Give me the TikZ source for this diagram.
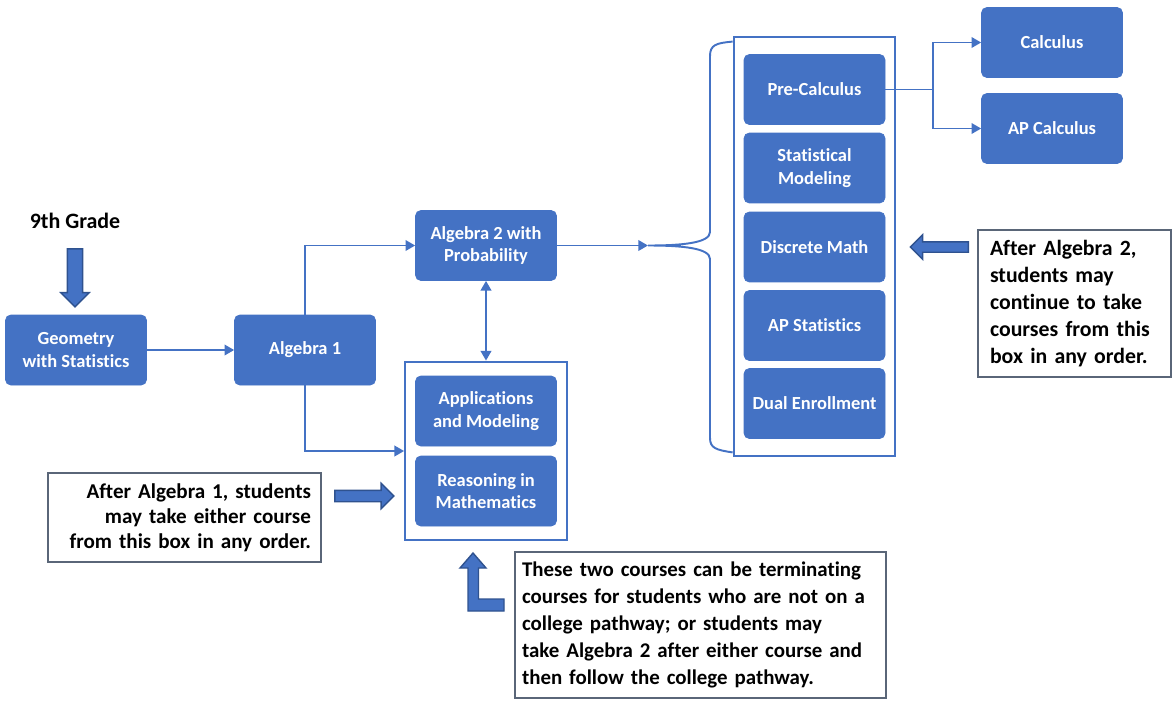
\documentclass[tikz,border=0pt]{standalone}
\usepackage{fontspec}
\setmainfont{Carlito}[Ligatures=NoCommon]
\usepackage{tikz}
\usetikzlibrary{shapes.arrows,arrows.meta,positioning,calc,fit}
\definecolor{boxblue}{HTML}{4472C4}
\definecolor{arrowedge}{HTML}{2F528F}
\definecolor{noteedge}{HTML}{5A6678}
\tikzset{
    course/.style={draw=boxblue, fill=boxblue, text=white, minimum width=2.82cm, minimum height=1.4cm,
                   rounded corners=3pt, align=center, font=\fontsize{10.5}{12.8}\selectfont\bfseries},
    groupbox/.style={draw=boxblue, line width=1.2pt, inner xsep=0.2cm},
    notebox/.style={draw=noteedge, fill=white, line width=0.8pt, font=\fontsize{12.4}{15.3}\selectfont\bfseries},
    flow/.style={draw=boxblue, line width=1.1pt, -{Triangle[length=5.5pt,width=6pt]}},
    brace/.style={draw=boxblue, line width=1.1pt},
    blockarrow/.style={single arrow, draw=arrowedge, fill=boxblue, line width=0.8pt, inner xsep=0pt},
    heading/.style={font=\fontsize{12.5}{15}\selectfont\bfseries},
}

\begin{document}
\begin{tikzpicture}[x=0.02cm, y=-0.02cm]
    \useasboundingbox (0,0) rectangle (1172,700);

    % Starting point
    \node[heading] (grade) at (75,221) {9th Grade};
    \node[blockarrow, minimum height=1.16cm, inner ysep=0.14cm, single arrow head extend=0.13cm, rotate=-90] (gradearrow) at (75,274) {};
    \node[course] (geo) at (76,350) {Geometry\\with Statistics};
    \node[course] (alg1) at (305,350) {Algebra 1};
    \node[course] (alg2) at (486,245.5) {Algebra 2 with\\Probability};

    % Courses after Algebra 1
    \node[course] (apps) at (486,411) {Applications\\and Modeling};
    \node[course] (reason) at (486,491) {Reasoning in\\Mathematics};
    \node[groupbox, inner ysep=0.28cm, fit=(apps)(reason)] (termgroup) {};

    % Courses after Algebra 2
    \node[course] (precalc) at (814.5,89.5) {Pre-Calculus};
    \node[course] (statmod) at (814.5,168) {Statistical\\Modeling};
    \node[course] (discrete) at (814.5,247) {Discrete Math};
    \node[course] (apstat) at (814.5,325.5) {AP Statistics};
    \node[course] (dual) at (814.5,403.5) {Dual Enrollment};
    \node[groupbox, inner ysep=0.35cm, fit=(precalc)(dual)] (sidegroup) {};
    \node[course] (calc) at (1052,42.5) {Calculus};
    \node[course] (apcalc) at (1052,128.5) {AP Calculus};

    % Connectors
    \draw[flow] (geo) -- (alg1);
    \draw[flow] (alg1.north) |- (alg2);
    \draw[flow] (alg1.south) |- (termgroup);
    \draw[flow, {Triangle[length=5.5pt,width=6pt]}-{Triangle[length=5.5pt,width=6pt]}] (alg2) -- (termgroup);
    \coordinate (bracetip) at (648,245.5);
    \draw[flow] (alg2.east) -- (bracetip);
    \coordinate (bracetop) at ($(sidegroup.north west)+(0,6)$);
    \coordinate (bracebot) at ($(sidegroup.south west)+(0,-5)$);
    \draw[brace] (bracetop) .. controls (716,43) and (710,45) .. (710,56) -- (710,232)
        .. controls (710,243) and (682,245.5) .. (bracetip)
        .. controls (682,245.5) and (710,248) .. (710,259) -- (710,438)
        .. controls (710,448) and (716,450) .. (bracebot);
    \coordinate (split) at (933,89.5);
    \draw[brace] (precalc.east) -- (split);
    \draw[flow] (split) |- (calc);
    \draw[flow] (split) |- (apcalc);

    % Notes
    \node[notebox, minimum width=3.86cm, minimum height=2.94cm, text width=3.38cm, inner xsep=0.24cm, align=left] (rightnote) at (1074.5,303.5)
        {After Algebra 2,\\students may\\continue to take\\courses from this\\box in any order.};
    \node[blockarrow, minimum height=1.16cm, inner ysep=0.09cm, single arrow head extend=0.14cm, rotate=180] (rightarrow) at (942,247) {};
    \node[notebox, font=\fontsize{12}{14.2}\selectfont\bfseries, minimum width=5.46cm, minimum height=1.78cm, text width=5.06cm, inner xsep=0.2cm, align=right] (leftnote) at (184.5,517.5)
        {After Algebra 1, students\\may take either course\\from this box in any order.};
    \node[blockarrow, minimum height=1.18cm, inner ysep=0.1cm, single arrow head extend=0.14cm] (leftarrow) at (361.5,496) {};
    \node[notebox, font=\fontsize{11.9}{15.3}\selectfont\bfseries, minimum width=7.42cm, minimum height=2.92cm, text width=7.14cm, inner xsep=0.14cm, align=left] (bottomnote) at (700.5,625)
        {These two courses can be terminating\\courses for students who are not on a\\college pathway; or students may\\take Algebra 2 after either course and\\then follow the college pathway.};
    \filldraw[fill=boxblue, draw=arrowedge, line width=0.8pt] (473,553) -- (486,568) -- (478.5,568) -- (478.5,599)
        -- (504,599) -- (504,611) -- (468,611) -- (468,568) -- (460,568) -- cycle;
\end{tikzpicture}
\end{document}
